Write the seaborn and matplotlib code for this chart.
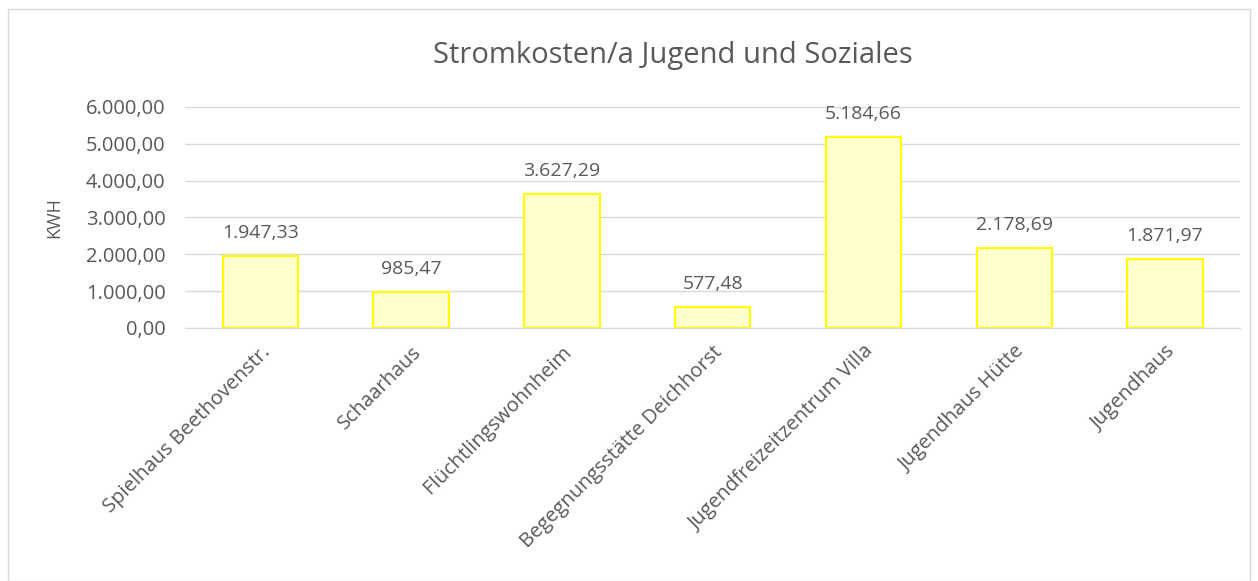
import pandas as pd
import matplotlib.pyplot as plt
import seaborn as sns
from matplotlib.patches import Rectangle

einrichtungen = ['Spielhaus Beethovenstr.', 'Schaarhaus', 'Flüchtlingswohnheim',
                 'Begegnungsstätte Deichhorst', 'Jugendfreizeitzentrum Villa',
                 'Jugendhaus Hütte', 'Jugendhaus']
kwh = [1947.33, 985.47, 3627.29, 577.48, 5184.66, 2178.69, 1871.97]
y_ticks = [0, 1000, 2000, 3000, 4000, 5000, 6000]

df = pd.DataFrame({'Einrichtung': einrichtungen, 'KWH': kwh})


def de_format(v):
    # deutsches Zahlenformat 1.234,56
    s = f'{v:,.2f}'
    return s.replace(',', 'X').replace('.', ',').replace('X', '.')


sns.set_style('white')
plt.rcParams['font.family'] = ['Open Sans', 'DejaVu Sans']
grau = '#595959'

fig = plt.figure(figsize=(12.58, 5.81), dpi=100)
ax = fig.add_axes([0.147, 0.4355, 0.839, 0.3805])

sns.barplot(data=df, x='Einrichtung', y='KWH', color='#FFFFCC', edgecolor='#FFFF00',
            linewidth=1.5, width=0.5, saturation=1, ax=ax, zorder=3)

ax.set_ylim(0, 6000)
ax.set_yticks(y_ticks)
ax.set_yticklabels([de_format(t) for t in y_ticks], color=grau, fontsize=14.5)
ax.yaxis.grid(True, color='#D9D9D9', linewidth=1, zorder=0)
ax.set_axisbelow(True)
for s in ax.spines.values():
    s.set_visible(False)
ax.spines['bottom'].set_visible(True)
ax.spines['bottom'].set_color('#D9D9D9')
ax.tick_params(axis='y', length=0, pad=14)
ax.tick_params(axis='x', length=0, pad=10)

ax.set_xticks(range(len(einrichtungen)))
ax.set_xticklabels(einrichtungen, rotation=45, ha='right', rotation_mode='anchor',
                   color=grau, fontsize=14.5)
ax.set_xlabel('')
ax.set_ylabel('KWH', color=grau, fontsize=13, labelpad=16)

for i, v in enumerate(kwh):
    ax.annotate(de_format(v), (i, v), xytext=(0, 10), textcoords='offset points',
                ha='center', va='bottom', color=grau, fontsize=14)

fig.text(0.535, 0.905, 'Stromkosten/a Jugend und Soziales', ha='center', va='center',
         color=grau, fontsize=21)

fig.patches.append(Rectangle((0.006, 0.0), 0.988, 0.985, transform=fig.transFigure,
                             fill=False, edgecolor='#D9D9D9', linewidth=1))

fig.savefig('out.png', dpi=100)
